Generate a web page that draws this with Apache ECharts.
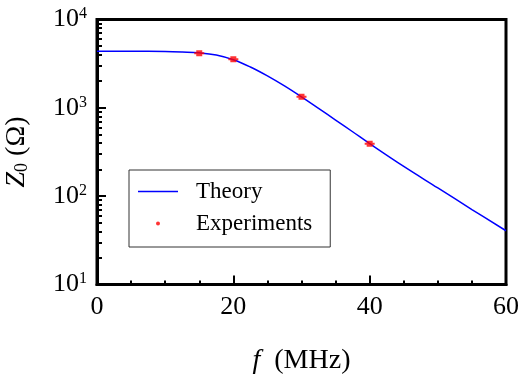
<!DOCTYPE html>
<html>
<head>
<meta charset="utf-8">
<script src="https://cdn.jsdelivr.net/npm/echarts@6/dist/echarts.min.js"></script>
<style>
  html, body { margin: 0; padding: 0; background: #fff; }
  #chart { width: 523px; height: 379px; }
</style>
</head>
<body>
<div id="chart"></div>
<script>
// theory curve (MHz, ohm)
const freqTheory = [0, 5, 10, 12.5, 15, 17.5, 20, 22.5, 25, 27.5, 30, 32.5, 35, 37.5, 40, 45, 50, 55, 60]
const zTheory = [4375, 4370, 4345, 4290, 4200, 3960, 3500, 2900, 2300, 1770, 1330, 984, 728, 536, 393, 217, 124, 70.6, 40.6]

// measured points
const freqExp = [15, 20, 30, 40]
const zExp = [4140, 3540, 1336, 393]

const xTicks = [0, 20, 40, 60]
const yTicks = [10, 100, 1000, 10000]
const yMinorTicks = [1, 10, 100, 1000].flatMap((d) => [2, 3, 4, 5, 6, 7, 8, 9].map((m) => m * d)).filter((v) => v > 10 && v < 10000)

const serif = 'Liberation Serif'
const chart = echarts.init(document.getElementById('chart'))

chart.setOption({
  animation: false,
  backgroundColor: '#fff',
  textStyle: { fontFamily: serif, color: '#000' },
  grid: {
    left: 97, right: 17, top: 19.5, bottom: 94.5, outerBoundsMode: 'none', containLabel: false,
    show: true, borderColor: '#000', borderWidth: 3, backgroundColor: 'transparent',
  },
  legend: {
    left: 129, top: 170, orient: 'vertical',
    padding: [10, 18, 12, 9], itemGap: 9,
    itemWidth: 40, itemHeight: 4,
    borderColor: '#333', borderWidth: 1, backgroundColor: '#fff',
    textStyle: { fontFamily: serif, fontSize: 23, color: '#000', padding: [0, 0, 0, 13] },
    data: [{ name: 'Theory', icon: 'path://M0,0H40V1.5H0Z' }, { name: 'Experiments', icon: 'circle' }],
  },
  xAxis: {
    type: 'value', min: 0, max: 60, interval: 20,
    name: '{i|f}  (MHz)', nameLocation: 'middle', nameGap: 62,
    nameTextStyle: { fontFamily: serif, fontSize: 28, color: '#000', rich: { i: { fontFamily: serif, fontStyle: 'italic', fontSize: 28 } } },
    axisLine: { onZero: false, lineStyle: { color: '#000', width: 3 } },
    axisTick: { inside: true, length: 9, lineStyle: { color: '#000', width: 2 }, customValues: xTicks },
    minorTick: { show: true, splitNumber: 4, length: 4, lineStyle: { color: '#000', width: 2 } },
    axisLabel: { fontFamily: serif, fontSize: 26, color: '#000', margin: 10, customValues: xTicks },
    splitLine: { show: false },
  },
  yAxis: [
    {
      type: 'log', logBase: 10, min: 10, max: 10000,
      name: '{i|Z}{sub|0} (Ω)', nameLocation: 'middle', nameGap: 66, nameRotate: 90,
      nameTextStyle: {
        fontFamily: serif, fontSize: 28, color: '#000',
        rich: { i: { fontFamily: serif, fontStyle: 'italic', fontSize: 28 }, sub: { fontFamily: serif, fontSize: 18, padding: [10, 0, 0, 0] } },
      },
      axisLine: { lineStyle: { color: '#000', width: 3 } },
      axisTick: { inside: true, length: 9, lineStyle: { color: '#000', width: 2 }, customValues: yTicks },
      axisLabel: {
        margin: 10, customValues: yTicks,
        formatter: (v) => '{b|10}{s|' + Math.round(Math.log10(v)) + '}',
        rich: { b: { fontFamily: serif, fontSize: 26, color: '#000' }, s: { fontFamily: serif, fontSize: 16, color: '#000', padding: [0, 0, 11, 0] } },
      },
      splitLine: { show: false },
    },
    {
      type: 'log', logBase: 10, min: 10, max: 10000, position: 'left',
      axisLine: { show: false },
      axisTick: { inside: true, length: 5, lineStyle: { color: '#000', width: 2 }, customValues: yMinorTicks },
      axisLabel: { show: false },
      splitLine: { show: false },
    },
  ],
  series: [
    {
      name: 'Theory', type: 'line', yAxisIndex: 0, symbol: 'none', smooth: 0.4,
      lineStyle: { color: '#0000ff', width: 1.5 }, itemStyle: { color: '#0000ff' },
      data: freqTheory.map((f, i) => [f, zTheory[i]]),
    },
    {
      name: 'Experiments', type: 'scatter', yAxisIndex: 0,
      symbol: 'path://M0,2H2V0H8V2H10V4H8V6H2V4H0Z', symbolSize: [10, 6],
      itemStyle: { color: '#ff0000' },
      data: freqExp.map((f, i) => [f, zExp[i]]),
      z: 3,
    },
  ],
})
</script>
</body>
</html>
